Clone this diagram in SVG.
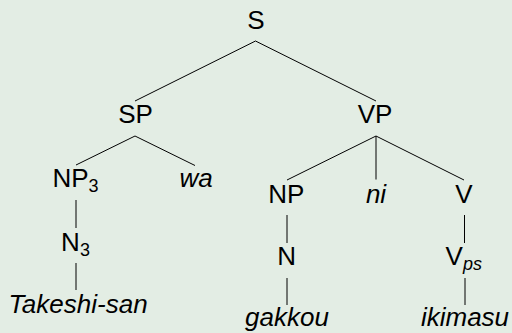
<svg xmlns="http://www.w3.org/2000/svg" width="512" height="333" viewBox="0 0 512 333">
<style>
text{font-family:"Liberation Sans",Arial,Helvetica,sans-serif;font-size:26px;fill:#000;text-anchor:middle}
.it{font-style:italic}
.sub{font-size:18px}
#edges line{stroke:#000;stroke-width:1}
</style>
<rect width="512" height="333" fill="#e3ede4"/>
<g id="edges">
<line x1="255.5" y1="41" x2="135" y2="101"/>
<line x1="255.5" y1="41" x2="376" y2="101"/>
<line x1="135" y1="136" x2="76" y2="165"/>
<line x1="135" y1="136" x2="195" y2="165.5"/>
<line x1="76" y1="200" x2="76" y2="228"/>
<line x1="76" y1="263" x2="76" y2="290"/>
<line x1="376" y1="136" x2="287" y2="180"/>
<line x1="376" y1="136" x2="376" y2="179.5"/>
<line x1="376" y1="136" x2="464" y2="180"/>
<line x1="287" y1="215" x2="287" y2="243"/>
<line x1="464.5" y1="215" x2="464.5" y2="243"/>
<line x1="287" y1="278" x2="287" y2="305"/>
<line x1="465" y1="278" x2="465" y2="305"/>
</g>
<g id="S"><text x="256" y="29">S</text></g>
<g id="SP"><text x="135.5" y="123.3">SP</text></g>
<g id="VP"><text x="375" y="123.3">VP</text></g>
<g id="NP3"><text x="75.5" y="187.3">NP<tspan class="sub" dy="5">3</tspan></text></g>
<g id="wa"><text class="it" x="196" y="187.3">wa</text></g>
<g id="N3"><text x="75.5" y="250.7">N<tspan class="sub" dy="5">3</tspan></text></g>
<g id="Takeshi-san"><text class="it" x="78" y="313.3">Takeshi-san</text></g>
<g id="NP"><text x="286.3" y="202.7">NP</text></g>
<g id="ni"><text class="it" x="376" y="202.7">ni</text></g>
<g id="V"><text x="464" y="202.7">V</text></g>
<g id="N"><text x="286.7" y="265">N</text></g>
<g id="Vps"><text x="463.8" y="265">V<tspan class="sub it" dy="5">ps</tspan></text></g>
<g id="gakkou"><text class="it" x="287" y="326">gakkou</text></g>
<g id="ikimasu"><text class="it" x="465" y="326">ikimasu</text></g>
</svg>
